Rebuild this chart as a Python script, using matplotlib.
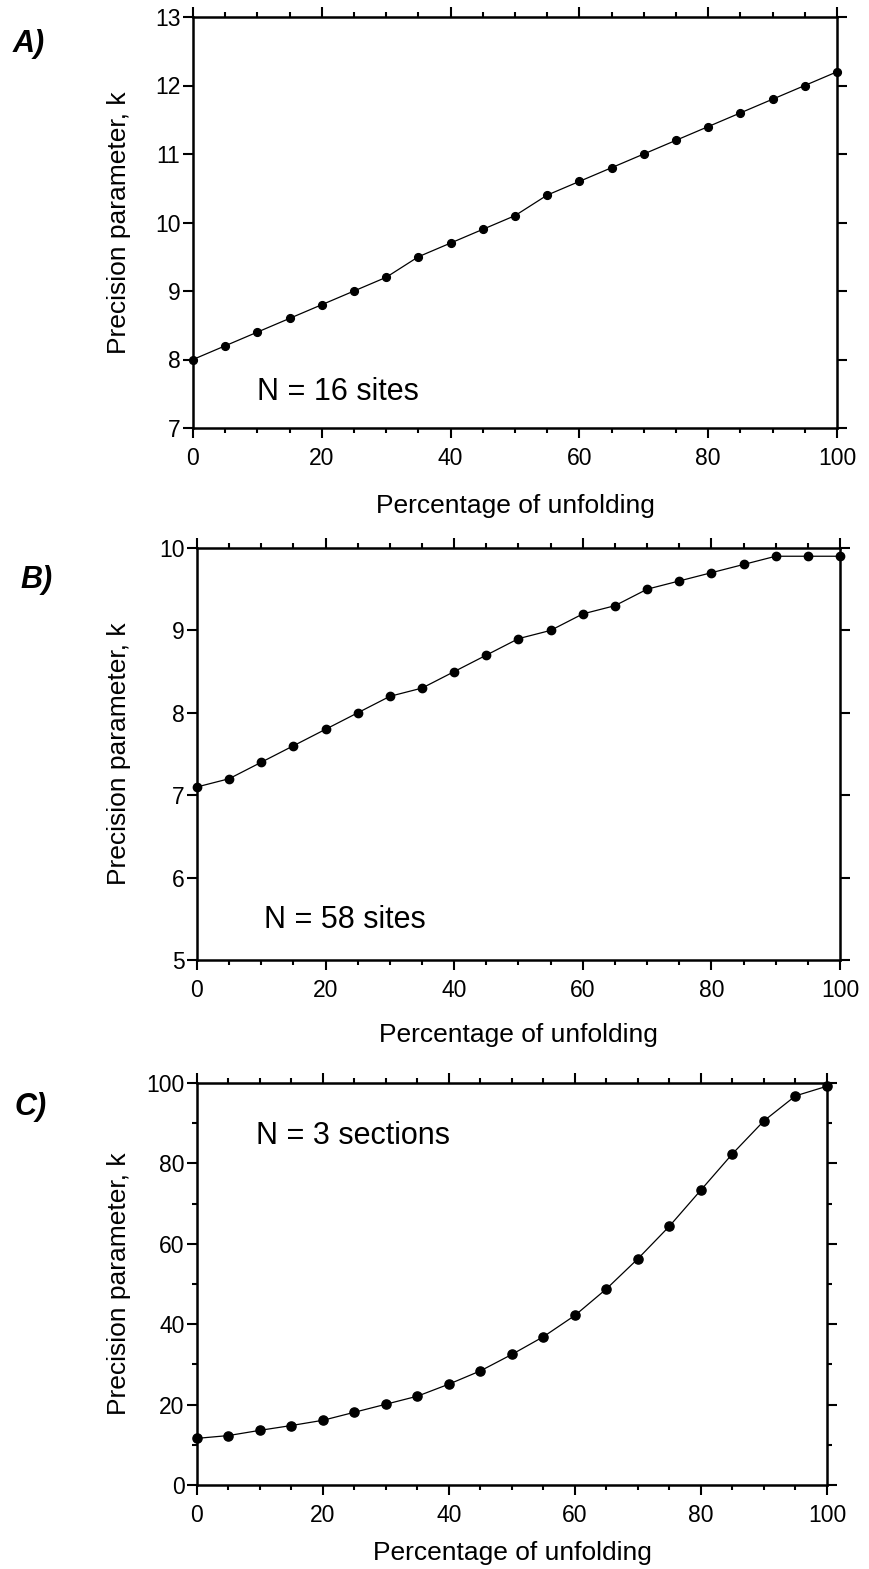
import matplotlib
matplotlib.use('Agg')
import matplotlib.pyplot as plt
from matplotlib.ticker import MultipleLocator
from matplotlib.transforms import blended_transform_factory

# unfolding steps, percent
unfolding = [0, 5, 10, 15, 20, 25, 30, 35, 40, 45, 50,
             55, 60, 65, 70, 75, 80, 85, 90, 95, 100]

# precision parameter k for each data set
k_sites16 = [8.0, 8.2, 8.4, 8.6, 8.8, 9.0, 9.2, 9.5, 9.7, 9.9, 10.1,
             10.4, 10.6, 10.8, 11.0, 11.2, 11.4, 11.6, 11.8, 12.0, 12.2]
k_sites58 = [7.1, 7.2, 7.4, 7.6, 7.8, 8.0, 8.2, 8.3, 8.5, 8.7, 8.9,
             9.0, 9.2, 9.3, 9.5, 9.6, 9.7, 9.8, 9.9, 9.9, 9.9]
k_sections3 = [11.6, 12.3, 13.6, 14.8, 16.1, 18.1, 20.1, 22.1, 25.1, 28.4, 32.5,
               36.9, 42.2, 48.8, 56.3, 64.4, 73.4, 82.4, 90.6, 96.8, 99.2]

panel_names = ['A)', 'B)', 'C)']
notes = ['N = 16 sites', 'N = 58 sites', 'N = 3 sections']

plt.rcParams['font.family'] = ['Liberation Sans', 'DejaVu Sans']

W, H = 870, 1569
fig = plt.figure(figsize=(W / 100, H / 100), dpi=100)


def px_box(left, right, top, bottom):
    """像素坐标转为 figure 坐标"""
    return [left / W, (H - bottom) / H, (right - left) / W, (bottom - top) / H]


boxes = [px_box(193, 837, 17, 428),
         px_box(197, 840, 548, 960),
         px_box(197, 827, 1083, 1485)]
ylims = [(7, 13), (5, 10), (0, 100)]
ymajor = [1, 1, 20]
yminor = [None, None, 10]
series = [k_sites16, k_sites58, k_sections3]
note_pos = [(0.100, 0.068), (0.104, 0.078), (0.094, 0.848)]
label_pos = [(13, 52), (20, 588), (15, 1115)]
marker_size = [5.6, 6.0, 6.6]
xlabel_pad = [17, 15, 10]

for i in range(3):
    ax = fig.add_axes(boxes[i])
    ax.plot(unfolding, series[i], color='black', lw=0.9, marker='o',
            ms=marker_size[i], clip_on=False, zorder=5)
    ax.set_xlim(0, 100)
    ax.set_ylim(*ylims[i])

    ax.xaxis.set_major_locator(MultipleLocator(20))
    ax.xaxis.set_minor_locator(MultipleLocator(5))
    ax.yaxis.set_major_locator(MultipleLocator(ymajor[i]))
    if yminor[i]:
        ax.yaxis.set_minor_locator(MultipleLocator(yminor[i]))

    for sp in ax.spines.values():
        sp.set_linewidth(1.8)
    ax.tick_params(which='both', direction='out', top=True, right=True,
                   width=1.5, labelsize=16.5)
    ax.tick_params(which='major', length=7)
    ax.tick_params(which='minor', length=3.5)
    ax.tick_params(axis='x', which='major', pad=7)
    ax.tick_params(axis='y', which='major', pad=2)

    ax.set_xlabel('Percentage of unfolding', fontsize=19, labelpad=xlabel_pad[i])
    ax.set_ylabel('Precision parameter, k', fontsize=19)
    trans = blended_transform_factory(fig.transFigure, ax.transAxes)
    ax.yaxis.set_label_coords(131 / W, 0.5, transform=trans)

    ax.text(note_pos[i][0], note_pos[i][1], notes[i], transform=ax.transAxes,
            fontsize=22, ha='left', va='baseline')
    fig.text(label_pos[i][0] / W, 1 - label_pos[i][1] / H, panel_names[i],
             fontsize=22, fontweight='bold', fontstyle='italic',
             ha='left', va='baseline')

fig.savefig('out.png', dpi=100)
